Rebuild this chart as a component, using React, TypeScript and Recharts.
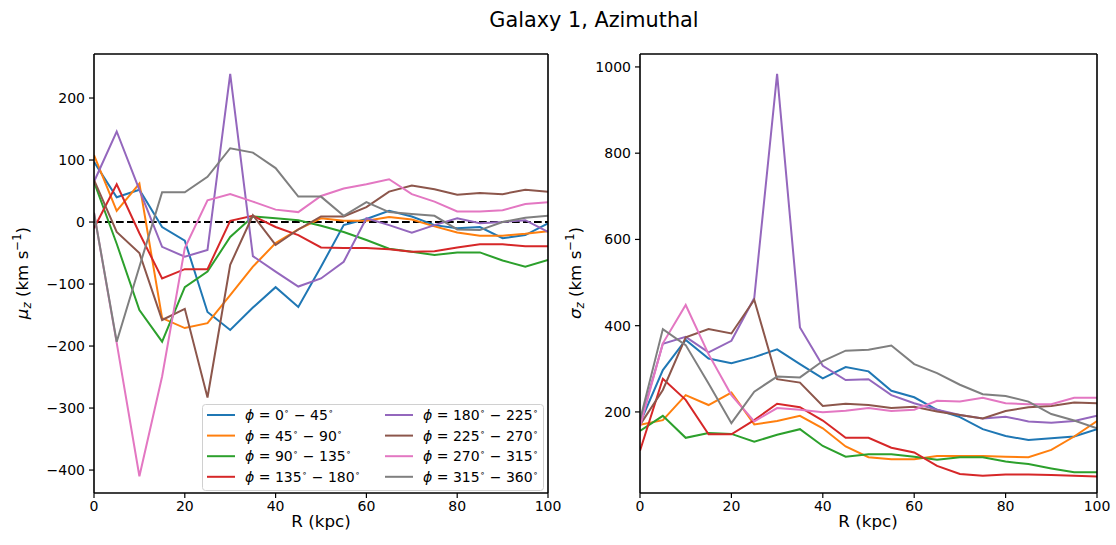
import React from "react";
import { Line, LineChart, ReferenceLine, XAxis, YAxis } from "recharts";

const radius = [0, 5, 10, 15, 20, 25, 30, 35, 40, 45, 50, 55, 60, 65, 70, 75, 80, 85, 90, 95, 100];
const phiEdges = ["0", "45", "90", "135", "180", "225", "270", "315", "360"];
const colors = ["#1f77b4", "#ff7f0e", "#2ca02c", "#d62728", "#9467bd", "#8c564b", "#e377c2", "#7f7f7f"];

// mean vertical velocity, km/s
const mu0 = [97, 40, 52, -8, -30, -145, -174, -138, -105, -137, -72, -5, 5, 18, 9, -5, -10, -8, -26, -21, -2];
const mu1 = [108, 18, 62, -155, -171, -163, -118, -72, -34, -12, 6, 2, 2, 8, 4, -7, -17, -22, -22, -19, -15];
const mu2 = [65, -35, -142, -193, -105, -80, -24, 9, 6, 3, -6, -16, -29, -43, -48, -53, -49, -49, -62, -72, -61];
const mu3 = [-10, 61, -18, -91, -76, -76, 2, 10, -8, -21, -41, -42, -42, -44, -48, -47, -41, -36, -36, -39, -39];
const mu4 = [65, 146, 52, -40, -56, -45, 239, -55, -80, -104, -91, -64, 6, -5, -17, -5, 6, -2, 0, 3, -16];
const mu5 = [68, -16, -50, -158, -140, -283, -69, 11, -37, -12, 9, 9, 24, 49, 59, 53, 44, 47, 45, 52, 49];
const mu6 = [15, -195, -410, -249, -42, 35, 45, 33, 20, 16, 42, 54, 61, 69, 45, 33, 17, 17, 19, 29, 32];
const mu7 = [15, -193, -72, 48, 48, 73, 119, 112, 87, 41, 41, 10, 32, 16, 13, 10, -12, -13, 0, 7, 10];

// vertical velocity dispersion, km/s
const sig0 = [174, 297, 367, 324, 313, 327, 345, 311, 278, 304, 294, 249, 234, 205, 188, 160, 144, 135, 139, 143, 160];
const sig1 = [170, 181, 239, 216, 245, 171, 179, 191, 162, 120, 95, 90, 90, 98, 98, 98, 96, 95, 112, 143, 179];
const sig2 = [156, 191, 140, 151, 149, 131, 147, 160, 121, 96, 102, 102, 96, 89, 95, 95, 85, 79, 69, 60, 60];
const sig3 = [110, 277, 228, 148, 148, 181, 219, 211, 180, 140, 140, 117, 106, 75, 56, 52, 55, 55, 54, 52, 50];
const sig4 = [174, 358, 374, 338, 365, 464, 984, 396, 307, 274, 276, 239, 220, 205, 193, 185, 189, 178, 175, 179, 191];
const sig5 = [170, 251, 373, 392, 382, 460, 276, 268, 214, 219, 216, 209, 212, 201, 193, 185, 202, 211, 214, 222, 220];
const sig6 = [166, 359, 448, 334, 239, 178, 209, 205, 199, 203, 209, 202, 205, 226, 224, 233, 220, 218, 218, 233, 233];
const sig7 = [181, 392, 355, 266, 174, 247, 282, 280, 318, 342, 344, 354, 311, 290, 263, 241, 237, 224, 195, 180, 162];

const rTicks = [0, 20, 40, 60, 80, 100];
const muTicks = [-400, -300, -200, -100, 0, 100, 200];
const sigTicks = [200, 400, 600, 800, 1000];

const muSeries = [mu0, mu1, mu2, mu3, mu4, mu5, mu6, mu7];
const sigSeries = [sig0, sig1, sig2, sig3, sig4, sig5, sig6, sig7];

const toRows = (series: number[][]) =>
  radius.map((r, i) => {
    const row: Record<string, number> = { R: r };
    series.forEach((s, k) => (row[`s${k}`] = s[i]));
    return row;
  });

const FONT = "DejaVu Sans, sans-serif";
const fmt = (v: number) => String(v).replace("-", "\u2212");
const tickStyle = { fill: "#000", fontSize: 14, fontFamily: FONT };
const axisLine = { stroke: "#000", strokeWidth: 1.6 };
const tickLine = { stroke: "#000", strokeWidth: 1.2 };

const Panel = ({ rows, domain, ticks, width, right, zero }: any) => (
  <LineChart width={width} height={545} data={rows} margin={{ top: 54, right, bottom: 0, left: 0 }}>
    <XAxis dataKey="R" type="number" domain={[0, 100]} ticks={rTicks} height={52} tickSize={5} tickMargin={3}
      axisLine={axisLine} tickLine={tickLine} tick={tickStyle} allowDataOverflow />
    <YAxis type="number" domain={domain} ticks={ticks} width={94} tickSize={5} tickMargin={4} tickFormatter={fmt}
      axisLine={axisLine} tickLine={tickLine} tick={tickStyle} allowDataOverflow />
    {zero && <ReferenceLine y={0} stroke="#000" strokeWidth={2} strokeDasharray="7.7 3.3" />}
    {colors.map((c, k) => (
      <Line key={k} dataKey={`s${k}`} stroke={c} strokeWidth={2} dot={false} isAnimationActive={false} type="linear" />
    ))}
    <ReferenceLine y={domain[1]} stroke="#000" strokeWidth={1.6} />
    <ReferenceLine x={100} stroke="#000" strokeWidth={1.6} />
  </LineChart>
);

const legendLabel = (k: number) => (
  <>
    <tspan fontStyle="italic">ϕ</tspan>
    <tspan> = {phiEdges[k]}</tspan>
    <tspan fontSize={9} dy={-6}>∘</tspan>
    <tspan dy={6}> − {phiEdges[k + 1]}</tspan>
    <tspan fontSize={9} dy={-6}>∘</tspan>
  </>
);

const YLabel = ({ x, sym }: { x: number; sym: string }) => (
  <text transform={`translate(${x},273) rotate(-90)`} textAnchor="middle" fontSize={16.7}>
    <tspan fontStyle="italic">{sym}</tspan>
    <tspan fontStyle="italic" fontSize={11.7} dy={3}>z</tspan>
    <tspan dy={-3}> (km s</tspan>
    <tspan fontSize={11.7} dy={-7}>−1</tspan>
    <tspan dy={7}>)</tspan>
  </text>
);

export default function App() {
  const muRows = toRows(muSeries);
  const sigRows = toRows(sigSeries);
  return (
    <div style={{ position: "absolute", left: 0, top: 0, width: 1116, height: 545, background: "#fff", fontFamily: FONT }}>
      <div style={{ position: "absolute", left: 0, top: 0 }}>
        <Panel rows={muRows} domain={[-437, 271]} ticks={muTicks} width={580} right={32} zero />
      </div>
      <div style={{ position: "absolute", left: 546, top: 0 }}>
        <Panel rows={sigRows} domain={[12, 1030]} ticks={sigTicks} width={570} right={19} />
      </div>
      <svg width={1116} height={545} style={{ position: "absolute", left: 0, top: 0, pointerEvents: "none" }} fontFamily={FONT}>
        <text x={594} y={26.5} textAnchor="middle" fontSize={20.8}>Galaxy 1, Azimuthal</text>
        <text x={321} y={527} textAnchor="middle" fontSize={16.7}>R (kpc)</text>
        <text x={868} y={527} textAnchor="middle" fontSize={16.7}>R (kpc)</text>
        <YLabel x={28} sym="μ" />
        <YLabel x={581} sym="σ" />
        <rect x={202.5} y={404.5} width={341} height={86} rx={3} fill="#fff" fillOpacity={0.8} stroke="#d0d0d0" />
        {colors.map((c, k) => {
          const col = Math.floor(k / 4);
          const row = k % 4;
          const x0 = 207 + col * 178;
          const cy = 415 + row * 20.6;
          return (
            <g key={k}>
              <line x1={x0} x2={x0 + 28} y1={cy} y2={cy} stroke={c} strokeWidth={2} />
              <text x={x0 + 38} y={cy + 5} fontSize={14}>{legendLabel(k)}</text>
            </g>
          );
        })}
      </svg>
    </div>
  );
}
